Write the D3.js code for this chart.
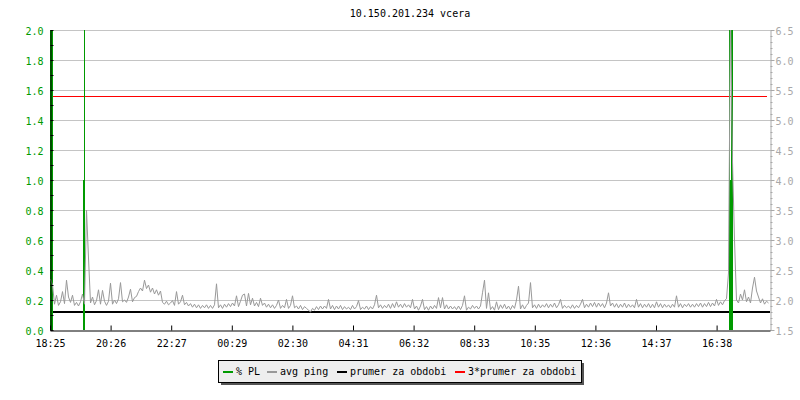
<!DOCTYPE html>
<html><head><meta charset="utf-8">
<script src="https://cdn.jsdelivr.net/npm/d3@7"></script>
<style>
body{margin:0;background:#fff}
svg text{font-family:"DejaVu Sans Mono",monospace;font-size:10px}
</style>
</head><body>
<svg id="c" width="800" height="400"></svg>
<script>
// ---------------- data ----------------
const chartTitle = "10.150.201.234 vcera";
const timeTickMinutes = [0,121.2,242.4,363.6,484.8,606,727.2,848.4,969.6,1090.8,1212,1333.2];
const timeTickLabels = ["18:25","20:26","22:27","00:29","02:30","04:31","06:32","08:33","10:35","12:36","14:37","16:38"];
const plTickValues = [0,0.2,0.4,0.6,0.8,1.0,1.2,1.4,1.6,1.8,2.0];
const pingTickValues = [1.5,2.0,2.5,3.0,3.5,4.0,4.5,5.0,5.5,6.0,6.5];
const pingStartMinute = 1;
const pingStepMinutes = 4;
const pingValues = [
 2.35,2.25,1.93,2.08,1.91,1.97,2.14,1.94,2.33,2.05,1.96,2.08,1.91,1.96,1.9,1.97,2.1,1.93,3.5,2.7,
 1.95,2.05,1.92,1.99,2.17,1.93,2.16,1.98,1.91,1.98,2.28,1.93,2.0,1.94,2.02,2.29,1.97,2.0,1.96,2.05,
 2.18,1.97,2.04,2.06,2.14,2.2,2.15,2.33,2.19,2.25,2.13,2.2,2.1,2.17,2.08,2.15,1.96,1.93,1.98,1.92,
 1.95,1.99,1.91,2.14,1.93,1.97,2.08,1.92,1.96,1.9,1.94,1.88,1.93,1.87,1.92,1.86,1.91,1.87,1.92,1.86,
 1.91,1.86,1.92,2.27,1.87,1.92,1.86,1.93,1.88,1.94,1.89,1.95,1.9,2.07,1.89,1.98,2.08,2.1,1.9,2.11,
 1.92,2.03,1.9,1.96,1.89,2.03,1.91,1.95,1.88,1.93,1.87,1.92,1.86,1.91,2.0,1.86,1.91,1.87,2.01,1.86,
 1.91,2.07,1.87,1.9,1.85,1.91,1.84,1.89,1.86,1.83,1.8,1.86,1.83,1.89,1.84,1.9,1.85,1.9,1.86,2.01,
 1.85,1.91,1.84,1.9,1.85,1.91,1.84,1.89,1.85,1.88,1.84,1.91,1.85,1.89,1.99,1.84,1.88,1.85,1.9,1.84,
 1.89,1.85,1.92,2.08,1.87,1.92,1.86,1.91,1.87,1.93,1.86,1.94,1.87,1.97,1.88,1.93,1.87,1.94,1.88,1.92,
 1.87,2.01,1.85,1.9,1.83,1.9,2.01,1.84,1.89,1.83,1.9,1.85,1.91,1.86,2.04,1.87,2.04,1.85,1.92,1.85,
 1.9,1.85,1.89,1.84,1.9,1.84,1.91,2.07,1.83,1.88,1.85,1.91,1.86,1.9,1.85,1.9,2.12,2.33,1.86,2.12,
 1.84,1.89,1.83,1.97,1.84,1.92,1.86,1.93,1.85,1.9,1.84,1.91,1.86,2.0,2.23,1.85,1.92,1.85,1.91,1.95,
 2.29,1.87,1.92,1.86,1.93,1.87,1.92,1.88,1.94,1.87,1.93,1.88,1.95,1.87,1.92,2.01,1.86,1.91,1.87,1.9,
 1.86,1.92,1.86,1.91,1.87,1.93,2.01,1.87,1.93,1.88,1.95,1.89,1.96,1.88,1.95,1.89,1.94,1.87,1.95,2.12,
 1.9,1.95,1.88,1.94,1.87,1.93,1.88,1.95,1.87,1.93,1.88,1.92,1.87,2.01,1.88,1.94,1.87,1.93,1.88,1.94,
 1.87,1.93,1.87,1.97,1.88,1.94,1.87,1.93,1.88,1.92,1.87,1.93,1.88,2.07,1.88,1.94,1.87,1.93,1.89,1.94,
 1.88,1.93,1.88,1.94,1.89,1.95,1.88,1.94,1.89,1.96,1.89,1.95,1.9,2.01,1.91,1.97,1.92,1.99,2.02,2.45,
 6.8,4.3,3.0,2.0,1.95,2.1,2.0,2.17,1.97,2.05,1.95,2.2,2.38,2.15,2.05,1.95,2.02,1.93,1.98,1.95
];
const plMinutes = [0,2,4,66,68,1358,1360,1362,1364];
const plValues  = [100,100,100,1,100,100,1,100,100];
const pingMean = 1.798;
const legendLabels = ["% PL","avg ping","prumer za obdobi","3*prumer za obdobi"];

// ---------------- style ----------------
const C = {green:"#009a00", gray:"#999999", black:"#000", red:"#ff0000", grid:"#c4c4c4", axisGray:"#a8a8a8"};
const legendColors = [C.green, C.gray, C.black, C.red];

const svg = d3.select("#c");
const L = 50, R = 770, T = 30, B = 330;

const x = d3.scaleLinear().domain([0,1440]).range([L,R]);
const yPL = d3.scaleLinear().domain([0,2]).range([B,T]).clamp(true);
const yPing = d3.scaleLinear().domain([1.5,6.5]).range([B,T]);

svg.append("defs").append("clipPath").attr("id","plot")
  .append("rect").attr("x",L).attr("y",T).attr("width",R-L).attr("height",B-T);

// title
svg.append("text").attr("x",(L+R)/2).attr("y",17).attr("text-anchor","middle")
  .attr("fill","#000").text(chartTitle);

// grid
svg.append("g").selectAll("line").data(plTickValues.filter(d=>d>0)).join("line")
  .attr("x1",L).attr("x2",R).attr("y1",d=>Math.round(yPL(d))+0.5).attr("y2",d=>Math.round(yPL(d))+0.5)
  .attr("stroke",C.grid).attr("stroke-width",1);

// 3*mean (red) and mean (black)
svg.append("line").attr("x1",L).attr("x2",R-3)
  .attr("y1",Math.round(yPing(3*pingMean))+0.5).attr("y2",Math.round(yPing(3*pingMean))+0.5)
  .attr("stroke",C.red).attr("stroke-width",1);
svg.append("line").attr("x1",L).attr("x2",R)
  .attr("y1",Math.round(yPing(pingMean))).attr("y2",Math.round(yPing(pingMean)))
  .attr("stroke",C.black).attr("stroke-width",2);

// PL bars
const plData = plMinutes.map((m,i)=>({m, v:plValues[i]}));
svg.append("g").attr("shape-rendering","crispEdges").selectAll("rect").data(plData).join("rect")
  .attr("x",d=>x(d.m)).attr("width",d=>x(d.m+2)-x(d.m))
  .attr("y",d=>yPL(d.v)).attr("height",d=>yPL(0)-yPL(d.v))
  .attr("fill",C.green);

// ping line
const pingData = pingValues.map((v,i)=>({m: pingStartMinute + i*pingStepMinutes, v}));
svg.append("path").datum(pingData).attr("clip-path","url(#plot)")
  .attr("fill","none").attr("stroke",C.gray).attr("stroke-width",1)
  .attr("d", d3.line().x(d=>x(d.m)).y(d=>yPing(d.v)).curve(d3.curveLinear));

// left axis (green labels)
const gL = svg.append("g").attr("transform",`translate(${L+0.5},0)`)
  .call(d3.axisLeft(yPL).tickValues(plTickValues).tickFormat(d3.format(".1f")).tickSizeInner(0).tickSizeOuter(0).tickPadding(7));
gL.select(".domain").attr("stroke","#000");
gL.selectAll("text").attr("fill",C.green).attr("dy","0.42em");
const minorPL = d3.range(0,21).map(i=>i/10);
svg.append("g").attr("transform",`translate(${L+0.5},0)`)
  .call(d3.axisRight(yPL).tickValues(minorPL).tickSize(3).tickFormat(""))
  .call(g=>g.select(".domain").remove())
  .selectAll("line").attr("stroke","#000");

// right axis (gray)
const minorPing = d3.range(15,66).map(i=>i/10);
svg.append("g").attr("transform",`translate(${R+0.5},0)`)
  .call(d3.axisRight(yPing).tickValues(minorPing).tickSize(2).tickFormat("").tickSizeOuter(0))
  .call(g=>{g.select(".domain").attr("stroke",C.axisGray); g.selectAll("line").attr("stroke",C.axisGray);});
const gR = svg.append("g").attr("transform",`translate(${R+0.5},0)`)
  .call(d3.axisRight(yPing).tickValues(pingTickValues).tickFormat(d3.format(".1f")).tickSizeInner(4).tickSizeOuter(0).tickPadding(1));
gR.select(".domain").remove();
gR.selectAll("line").attr("stroke",C.axisGray);
gR.selectAll("text").attr("fill",C.axisGray).attr("dy","0.42em");

// bottom axis
const gB = svg.append("g").attr("transform",`translate(0,${B+0.5})`)
  .call(d3.axisBottom(x).tickValues(timeTickMinutes).tickFormat((d,i)=>timeTickLabels[i]).tickSizeInner(-5).tickSizeOuter(0).tickPadding(9));
gB.select(".domain").attr("stroke","#000");
gB.selectAll("line").attr("stroke","#000");
gB.selectAll("text").attr("fill","#000");

// legend
const lg = svg.append("g");
const bx = 218, by = 360, bw = 363, bh = 22;
lg.append("rect").attr("x",bx+3).attr("y",by+3).attr("width",bw).attr("height",bh).attr("fill","#555");
lg.append("rect").attr("x",bx+0.5).attr("y",by+0.5).attr("width",bw).attr("height",bh).attr("fill","#eeeeee").attr("stroke","#000");
const legendX = [223, 267, 337, 455];
legendLabels.forEach((t,i)=>{
  lg.append("rect").attr("x",legendX[i]).attr("y",371).attr("width",10).attr("height",2).attr("fill",legendColors[i]);
  lg.append("text").attr("x",legendX[i]+13).attr("y",375).attr("fill","#000").text(t);
});
</script>
</body></html>
